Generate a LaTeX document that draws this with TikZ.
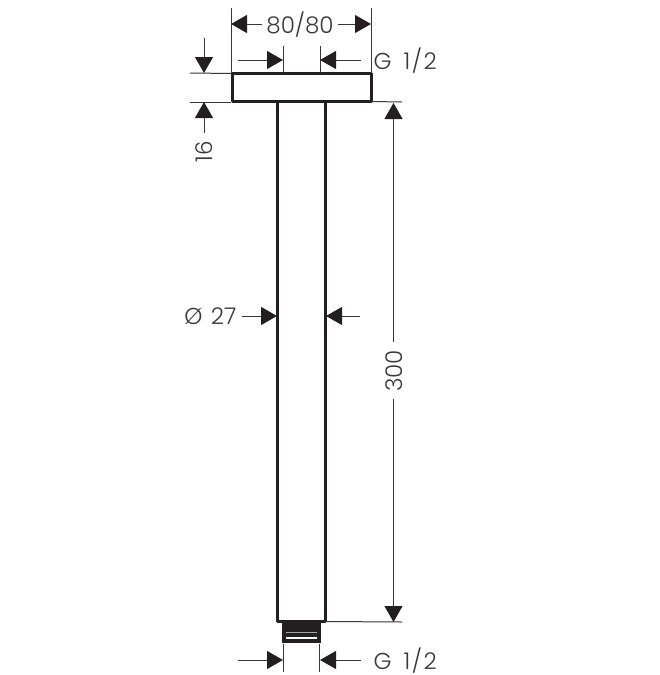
\documentclass[tikz,border=0pt]{standalone}
\usepackage{fontspec}
\setmainfont{Poppins Light}
\usetikzlibrary{arrows.meta}
\definecolor{ink}{HTML}{231F20}
\definecolor{dimc}{HTML}{3A3637}
\tikzset{
  body/.style={draw=ink,line width=3pt,line join=round,line cap=round},
  thin/.style={draw=dimc,line width=1pt},
  dimarrow/.style={thin,-{Triangle[length=16pt,width=18pt,fill=ink,color=ink]}},
  lbl/.style={text=dimc,inner sep=0pt,font=\fontsize{23}{26}\selectfont},
}
\newcommand{\gthread}{G\hspace{12pt}1\hspace{1.5pt}/\hspace{1.5pt}2}
\begin{document}
\begin{tikzpicture}[x=1pt,y=-1pt]
\useasboundingbox (0,0) rectangle (660,675);
\fill[white] (0,0) rectangle (660,675);
% named points
\coordinate (flTL) at (232,73.5);
\coordinate (flBR) at (371.5,101.5);
\coordinate (pipeLT) at (277.7,101.5);
\coordinate (pipeLB) at (277.7,621.5);
\coordinate (pipeRT) at (325,101.5);
\coordinate (pipeRB) at (325,621.5);
% body
\draw[body] (flTL) rectangle (flBR);
\draw[body] (pipeLT) -- (pipeLB) -- (pipeRB) -- (pipeRT);
\node[fill=ink,minimum width=39pt,minimum height=21pt,inner sep=0pt,anchor=north west] (thread) at (282,622) {};
\fill[gray!70] (286,632) rectangle (317,633.3);
\fill[white] (286,637) rectangle (317,638.5);
% extension lines
\coordinate (e1a) at (231,8); \coordinate (e1b) at (231,73);
\coordinate (e2a) at (371,8); \coordinate (e2b) at (371,73);
\draw[thin] (e1a) -- (e1b);
\draw[thin] (e2a) -- (e2b);
\coordinate (e3a) at (283,46); \coordinate (e3b) at (283,73);
\coordinate (e4a) at (320,46); \coordinate (e4b) at (320,73);
\draw[thin] (e3a) -- (e3b);
\draw[thin] (e4a) -- (e4b);
\coordinate (e5a) at (190,73); \coordinate (e6a) at (190,102);
\draw[thin] (e5a) -- (flTL);
\draw[thin] (e6a) -- (231,102);
\coordinate (e7b) at (402,102);
\draw[thin] (flBR) -- (e7b);
\coordinate (e8b) at (402,622);
\draw[thin] (pipeRB) -- (e8b);
\coordinate (e9a) at (283,644); \coordinate (e9b) at (283,672);
\coordinate (e10a) at (319.5,644); \coordinate (e10b) at (319.5,672);
\draw[thin] (e9a) -- (e9b);
\draw[thin] (e10a) -- (e10b);
% labels
\node[lbl] (w) at (300,25) {80/80};
\node[lbl,anchor=west] (g1) at (373.5,61) {\gthread};
\node[lbl,rotate=90] (h) at (204,152) {16};
\node[lbl,anchor=east] (d) at (236.5,316) {Ø\hspace{2pt} 27};
\node[lbl,rotate=90] (l) at (394,371) {300};
\node[lbl,anchor=west] (g2) at (373.5,661) {\gthread};
% dimension arrows
\draw[dimarrow] (262,24) -- (231,24);
\draw[dimarrow] (338,24) -- (371,24);
\draw[dimarrow] (238,60) -- (283,60);
\draw[dimarrow] (361,60) -- (320,60);
\draw[dimarrow] (204,38) -- (204,73);
\draw[dimarrow] (204,133) -- (204,102);
\draw[dimarrow] (242,316) -- (277,316);
\draw[dimarrow] (360,316) -- (326,316);
\draw[dimarrow] (393.5,342) -- (393.5,103);
\draw[dimarrow] (393.5,399) -- (393.5,622);
\draw[dimarrow] (238,660) -- (283,660);
\draw[dimarrow] (361,660) -- (320,660);
\end{tikzpicture}
\end{document}
